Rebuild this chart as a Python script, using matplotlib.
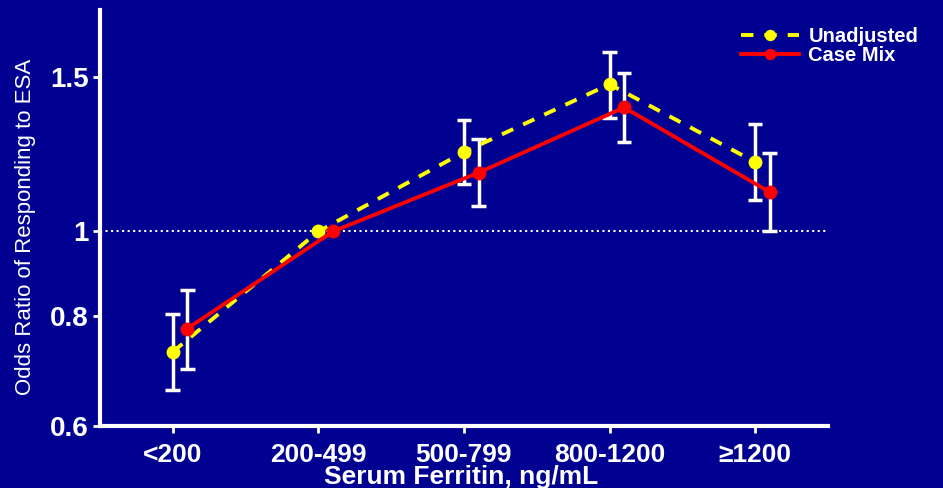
import numpy as np
import matplotlib
matplotlib.use("Agg")
import matplotlib.pyplot as plt

plt.rcParams['font.family'] = ['Liberation Sans', 'DejaVu Sans']

# 数据
categories = ['<200', '200-499', '500-799', '800-1200', '≥1200']
unadj = [0.729, 1.0, 1.232, 1.472, 1.200]
unadj_lo = [0.660, None, 1.132, 1.346, 1.086]
unadj_hi = [0.806, None, 1.340, 1.603, 1.325]
casemix = [0.775, 1.0, 1.167, 1.385, 1.109]
casemix_lo = [0.697, None, 1.069, 1.265, 1.000]
casemix_hi = [0.858, None, 1.274, 1.518, 1.230]
yticks = [0.6, 0.8, 1, 1.5]
ytick_labels = ['0.6', '0.8', '1', '1.5']

bg = '#000091'
fig = plt.figure(figsize=(9.43, 4.88), dpi=100, facecolor=bg)
ax = fig.add_axes([0.106, 0.127, 0.772, 0.853], facecolor=bg)

x = np.arange(len(categories))
offset = 0.1

# 参考线
ax.axhline(1.0, color='white', linestyle=':', linewidth=1.5, zorder=1)

# 误差线
def draw_err(xs, lo, hi):
    for xi, l, h in zip(xs, lo, hi):
        if l is None:
            continue
        ax.plot([xi, xi], [l, h], color='white', lw=2.5, zorder=2, solid_capstyle='butt')
        for v in (l, h):
            ax.plot([xi - 0.05, xi + 0.05], [v, v], color='white', lw=2.5, zorder=2,
                    solid_capstyle='butt')

draw_err(x, unadj_lo, unadj_hi)
draw_err(x + offset, casemix_lo, casemix_hi)

ax.plot(x, unadj, color='#FFFF00', lw=2.8, linestyle=(0, (3.2, 2.8)), marker='o',
        markersize=9, label='Unadjusted', zorder=3)
ax.plot(x + offset, casemix, color='#FF0000', lw=2.8, marker='o', markersize=9,
        label='Case Mix', zorder=4)

ax.set_yscale('log')
ax.set_ylim(0.6, 1.79)
ax.set_xlim(-0.5, 4.5)
ax.set_yticks(yticks)
ax.set_yticklabels(ytick_labels)
ax.yaxis.set_minor_locator(matplotlib.ticker.NullLocator())
ax.set_xticks(x)
ax.set_xticklabels(categories)

for s in ['top', 'right']:
    ax.spines[s].set_visible(False)
for s in ['left', 'bottom']:
    ax.spines[s].set_color('white')
    ax.spines[s].set_linewidth(3)
ax.tick_params(colors='white', width=2, length=5)
ax.tick_params(axis='y', pad=3, labelsize=20)
ax.tick_params(axis='x', pad=7, labelsize=19)
for lab in ax.get_xticklabels() + ax.get_yticklabels():
    lab.set_fontweight('bold')

fig.text(26 / 943, 1 - 227 / 488, 'Odds Ratio of Responding to ESA', rotation=90,
         color='white', fontsize=16, ha='center', va='center')
fig.text(461 / 943, 1 - 477 / 488, 'Serum Ferritin, ng/mL', color='white',
         fontsize=19, fontweight='bold', ha='center', va='center')

leg = ax.legend(loc='upper left', bbox_to_anchor=(741 / 943, 1 - 27 / 488),
                bbox_transform=fig.transFigure, frameon=False, fontsize=14.5,
                labelspacing=0.0, handlelength=2.9, handletextpad=0.45,
                borderpad=0, borderaxespad=0, markerscale=0.8)
for t in leg.get_texts():
    t.set_color('white')
    t.set_fontweight('bold')

fig.savefig('out.png', dpi=100, facecolor=bg)
